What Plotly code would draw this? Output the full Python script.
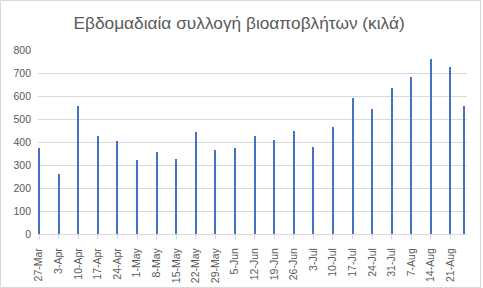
import plotly.graph_objects as go

dates = ["2023-03-27", "2023-04-03", "2023-04-10", "2023-04-17", "2023-04-24", "2023-05-01",
         "2023-05-08", "2023-05-15", "2023-05-22", "2023-05-29", "2023-06-05", "2023-06-12",
         "2023-06-19", "2023-06-26", "2023-07-03", "2023-07-10", "2023-07-17", "2023-07-24",
         "2023-07-31", "2023-08-07", "2023-08-14", "2023-08-21", "2023-08-26"]
values = [376, 262, 557, 427, 405, 322, 357, 327, 444, 366, 372, 427,
          409, 448, 379, 466, 592, 544, 635, 683, 761, 726, 557]
tick_vals = dates[:22]
tick_text = ["27-Mar", "3-Apr", "10-Apr", "17-Apr", "24-Apr", "1-May", "8-May", "15-May",
             "22-May", "29-May", "5-Jun", "12-Jun", "19-Jun", "26-Jun", "3-Jul", "10-Jul",
             "17-Jul", "24-Jul", "31-Jul", "7-Aug", "14-Aug", "21-Aug"]
title = "Εβδομαδιαία συλλογή βιοαποβλήτων (κιλά)"

W, H = 483, 288
ml, mr, mt, mb = 38, 16, 50, 54
pw, ph = W - ml - mr, H - mt - mb

fig = go.Figure(go.Bar(x=dates, y=values, width=0.4 * 86400000,
                       marker=dict(color="#4472C4", line=dict(width=0))))
font = "Liberation Sans"
fig.update_layout(
    width=W, height=H, margin=dict(l=ml, r=mr, t=mt, b=mb, autoexpand=False),
    paper_bgcolor="white", plot_bgcolor="white", showlegend=False,
    title=dict(text=title, x=0.495, xanchor="center", y=1 - 23 / H, yanchor="middle",
               font=dict(family=font, size=17.3, color="#595959")),
    font=dict(family=font, size=10.5, color="#595959"),
    xaxis=dict(type="date", range=["2023-03-26 15:00", "2023-08-26 21:00"],
               tickmode="array", tickvals=tick_vals, ticktext=tick_text, tickangle=-90,
               ticks="outside", ticklen=4, tickcolor="#D9D9D9", showgrid=False,
               showline=True, linecolor="#D9D9D9", linewidth=1, zeroline=False,
               ticklabelstandoff=5, automargin=False),
    yaxis=dict(range=[0, 800], dtick=100, showgrid=True, gridcolor="#D9D9D9",
               gridwidth=1, zeroline=False, showline=False, ticks="", ticklabelstandoff=6,
               automargin=False),
    bargap=0,
)
fig.add_shape(type="rect", xref="paper", yref="paper",
              x0=-(ml - 0.5) / pw, x1=1 + (mr - 2.5) / pw,
              y0=-(mb - 0.5) / ph, y1=1 + (mt - 0.5) / ph,
              line=dict(color="#D9D9D9", width=1), fillcolor="rgba(0,0,0,0)", layer="below")
fig.write_html("out.html")
